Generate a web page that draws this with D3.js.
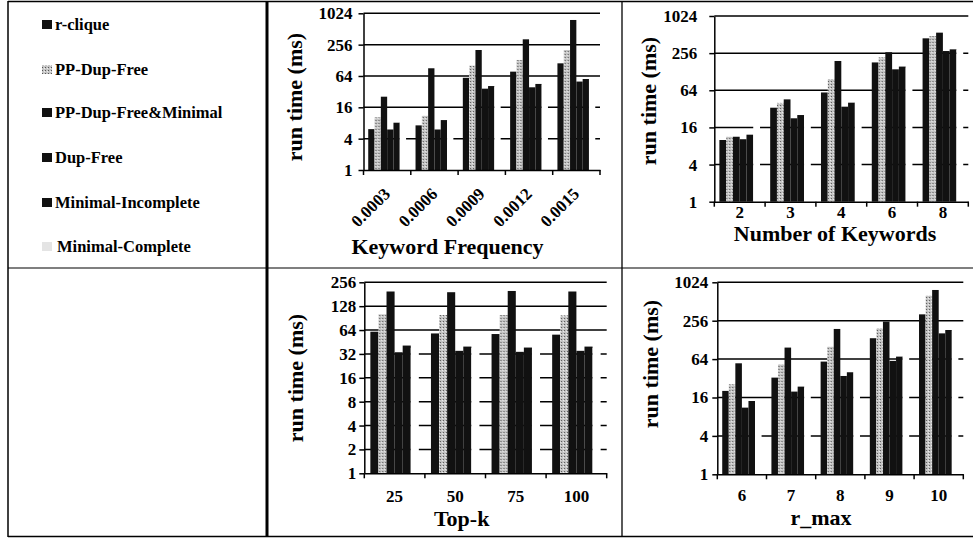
<!DOCTYPE html>
<html>
<head>
<meta charset="utf-8">
<script src="https://cdn.jsdelivr.net/npm/d3@7"></script>
<style>
  body { margin: 0; background: #fff; }
</style>
</head>
<body>
<svg id="fig" width="973" height="538"></svg>
<script>
// series names, in legend order
const seriesNames = ["r-clique", "PP-Dup-Free", "PP-Dup-Free&Minimal", "Dup-Free", "Minimal-Incomplete", "Minimal-Complete"];

// tick values for the log axes
const ticksBy4 = [1, 4, 16, 64, 256, 1024];
const ticksBy2 = [1, 2, 4, 8, 16, 32, 64, 128, 256];

// keyword frequency panel, one row per category, one value per series (ms)
const freqCats = ["0.0003", "0.0006", "0.0009", "0.0012", "0.0015"];
const freqValues = [
  [6.1, 10.3, 25.6, 6, 8.1, 8],
  [7.2, 11, 90, 6, 9.1, 9],
  [59, 101, 202, 36.5, 41, 40],
  [77.5, 130, 324, 38.8, 45, 44],
  [112, 202, 762, 50, 56, 55]
];

// number of keywords panel
const kwCats = ["2", "3", "4", "6", "8"];
const kwValues = [
  [10, 11.3, 11.3, 10.3, 12.2, 17],
  [33.4, 40, 45.6, 22.5, 25.4, 25],
  [59, 97.5, 191, 34.7, 40.3, 40],
  [181, 219, 265, 140, 155, 150],
  [445, 485, 550, 277, 295, 290]
];

// top-k panel
const topkCats = ["25", "50", "75", "100"];
const topkValues = [
  [61, 101, 196, 33.6, 40.8, 38],
  [58, 99, 192, 35, 39.6, 38],
  [57, 99, 199, 34, 38.5, 37],
  [56, 98, 196, 35, 39.6, 38]
];

// r_max panel
const rmaxCats = ["6", "7", "8", "9", "10"];
const rmaxValues = [
  [20.3, 25.8, 55, 11.1, 14.1, 14],
  [32.8, 53, 97, 19.8, 23.7, 23],
  [58.5, 100, 190, 34.8, 39.8, 40],
  [136, 195, 248, 60, 70, 68],
  [322, 633, 776, 162, 183, 180]
];

const FONT = "'Liberation Serif', 'Times New Roman', Times, serif";

const svg = d3.select("#fig");

// speckled grey for PP-Dup-Free
const pat = svg.append("defs").append("pattern")
    .attr("id", "speck")
    .attr("width", 3).attr("height", 3)
    .attr("patternUnits", "userSpaceOnUse");
pat.append("rect").attr("width", 3).attr("height", 3).attr("fill", "#c4c4c4");
pat.append("rect").attr("x", 0).attr("y", 0).attr("width", 1).attr("height", 1).attr("fill", "#555");
pat.append("rect").attr("x", 2).attr("y", 1).attr("width", 1).attr("height", 1).attr("fill", "#eee");

const fills = ["#111", "url(#speck)", "#111", "#111", "#111", "#fff"];
const color = d3.scaleOrdinal().domain(seriesNames).range(fills);

// table frame
const frame = svg.append("g").attr("stroke", "#000").attr("fill", "none");
frame.append("line").attr("x1", 8).attr("x2", 8).attr("y1", 1).attr("y2", 537).attr("stroke-width", 1.5);
frame.append("line").attr("x1", 8).attr("x2", 973).attr("y1", 1.5).attr("y2", 1.5).attr("stroke-width", 1.5);
frame.append("line").attr("x1", 8).attr("x2", 973).attr("y1", 268).attr("y2", 268).attr("stroke-width", 1.2);
frame.append("line").attr("x1", 8).attr("x2", 973).attr("y1", 536.5).attr("y2", 536.5).attr("stroke-width", 1.5);
frame.append("line").attr("x1", 267).attr("x2", 267).attr("y1", 1).attr("y2", 537).attr("stroke-width", 3);
frame.append("line").attr("x1", 622).attr("x2", 622).attr("y1", 1).attr("y2", 537).attr("stroke-width", 1.3);

// legend
const legendY = [25, 70, 113, 158, 203, 247];
const leg = svg.append("g").selectAll("g")
  .data(seriesNames)
  .join("g")
    .attr("transform", (d, i) => "translate(0," + legendY[i] + ")");
leg.append("rect")
    .attr("x", 42).attr("y", -5).attr("width", 10).attr("height", 9)
    .attr("fill", (d, i) => i === 5 ? "#e4e4e4" : color(d));
leg.append("text")
    .attr("x", (d, i) => i === 5 ? 57 : 55).attr("y", 5)
    .style("font-family", FONT).style("font-weight", "bold").style("font-size", "16.5px")
    .text(d => d);

function drawPanel(p) {
  const g = svg.append("g");
  const y = d3.scaleLog().base(2).domain([1, p.ticks[p.ticks.length - 1]]).range([p.bottom, p.top]);
  const x0 = d3.scaleBand().domain(p.cats).range([p.left, p.right]);
  const x1 = d3.scaleBand().domain(seriesNames).range([0, x0.bandwidth()])
      .paddingInner(0).paddingOuter(0.75);

  // gridlines behind the bars
  g.append("g").selectAll("line")
    .data(p.ticks.slice(1))
    .join("line")
      .attr("x1", p.left).attr("x2", p.right)
      .attr("y1", d => y(d)).attr("y2", d => y(d))
      .attr("stroke", "#000").attr("stroke-width", 1.5);

  // bars
  g.append("g").selectAll("g")
    .data(p.vals)
    .join("g")
      .attr("transform", (d, i) => "translate(" + x0(p.cats[i]) + ",0)")
    .selectAll("rect")
    .data(d => d.map((v, j) => ({key: seriesNames[j], v: v})))
    .join("rect")
      .attr("x", d => x1(d.key))
      .attr("width", x1.bandwidth())
      .attr("y", d => y(d.v))
      .attr("height", d => p.bottom - y(d.v))
      .attr("fill", d => color(d.key));

  // y axis
  const ya = g.append("g")
      .attr("transform", "translate(" + p.left + ",0)")
      .call(d3.axisLeft(y).tickValues(p.ticks).tickFormat(d3.format("d"))
        .tickSize(5).tickSizeOuter(0).tickPadding(p.tickPad));
  ya.select(".domain").attr("stroke-width", 1.5);
  ya.selectAll(".tick line").attr("stroke-width", 1.5);
  ya.selectAll("text")
    .style("font-family", FONT).style("font-weight", "bold").style("font-size", "17px");

  // x axis: labels at band centres, ticks at band edges
  const xa = g.append("g")
      .attr("transform", "translate(0," + p.bottom + ")")
      .call(d3.axisBottom(x0).tickSize(0).tickSizeOuter(0));
  xa.select(".domain").attr("stroke-width", 1.5);
  xa.selectAll("text")
    .style("font-family", FONT).style("font-weight", "bold").style("font-size", "17px");
  if (p.rotate) {
    xa.selectAll("text")
      .attr("y", 0).attr("dy", 0)
      .attr("text-anchor", "end")
      .attr("transform", "translate(4,25) rotate(-45)");
  } else {
    xa.selectAll("text").attr("y", p.labelY).attr("dy", 0);
  }
  const edges = p.cats.map(c => x0(c)).concat([p.right]);
  g.append("g").selectAll("line")
    .data(edges)
    .join("line")
      .attr("x1", d => d).attr("x2", d => d)
      .attr("y1", p.bottom).attr("y2", p.bottom + 5)
      .attr("stroke", "#000").attr("stroke-width", 1.5);

  // titles
  g.append("text")
      .attr("x", p.xTitleX).attr("y", p.xTitleY)
      .attr("text-anchor", "middle")
      .style("font-family", FONT).style("font-weight", "bold").style("font-size", "22px")
      .text(p.xTitle);
  g.append("text")
      .attr("transform", "translate(" + p.yTitleX + "," + p.yTitleY + ") rotate(-90)")
      .attr("text-anchor", "middle").attr("dy", "0.35em")
      .style("font-family", FONT).style("font-weight", "bold").style("font-size", "22px")
      .text("run time (ms)");
}

drawPanel({cats: freqCats, vals: freqValues, ticks: ticksBy4, rotate: true,
  left: 363.5, right: 600, top: 13.3, bottom: 170, tickPad: 6,
  xTitle: "Keyword Frequency", xTitleX: 447.5, xTitleY: 254, yTitleX: 294, yTitleY: 97});
drawPanel({cats: kwCats, vals: kwValues, ticks: ticksBy4, labelY: 16.3,
  left: 714.3, right: 968.3, top: 16, bottom: 201.7, tickPad: 12,
  xTitle: "Number of Keywords", xTitleX: 835, xTitleY: 241, yTitleX: 648, yTitleY: 101});
drawPanel({cats: topkCats, vals: topkValues, ticks: ticksBy2, labelY: 29,
  left: 364.3, right: 606.7, top: 282.3, bottom: 473.3, tickPad: 3,
  xTitle: "Top-k", xTitleX: 461.7, xTitleY: 526, yTitleX: 295, yTitleY: 378});
drawPanel({cats: rmaxCats, vals: rmaxValues, ticks: ticksBy4, labelY: 26.5,
  left: 717.3, right: 963.3, top: 282.3, bottom: 474.3, tickPad: 4,
  xTitle: "r_max", xTitleX: 821, xTitleY: 525, yTitleX: 650, yTitleY: 364});
</script>
</body>
</html>
